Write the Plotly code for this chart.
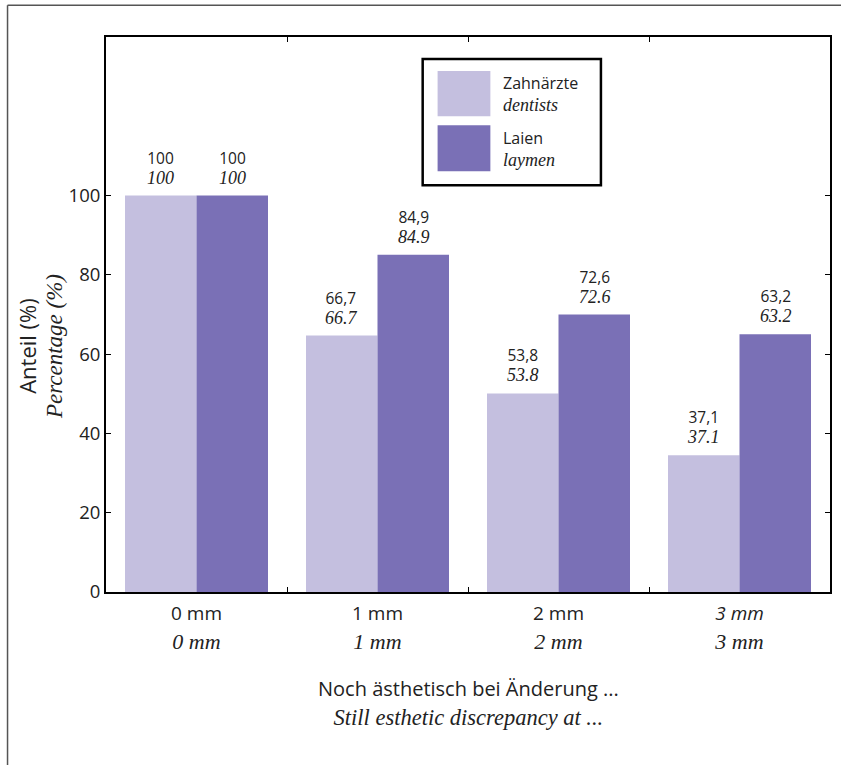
import plotly.graph_objects as go

categories = ["0 mm", "1 mm", "2 mm", "3 mm"]
tick_top = ["0 mm", "1 mm", "2 mm", "<i>3 mm</i>"]
tick_bottom = ["0 mm", "1 mm", "2 mm", "3 mm"]

# bar heights as drawn in the picture
dentists = [100, 64.7, 50.1, 34.5]
laymen = [100, 85.1, 70.0, 65.0]
# printed value labels
dentists_lbl_de = ["100", "66,7", "53,8", "37,1"]
dentists_lbl_en = ["100", "66.7", "53.8", "37.1"]
laymen_lbl_de = ["100", "84,9", "72,6", "63,2"]
laymen_lbl_en = ["100", "84.9", "72.6", "63.2"]

series_names = [("Zahnärzte", "dentists"), ("Laien", "laymen")]
c_light = "#c4bfdf"
c_dark = "#7a70b6"

SANS = "Open Sans, Noto Sans, sans-serif"
SERIF = "Liberation Serif, DejaVu Serif, serif"
INK = "#222"


def two_line(a, b, sa, sb):
    return (f"<span style='font-family:{SANS};font-size:{sa}px'>{a}</span><br>"
            f"<span style='font-family:{SERIF};font-style:italic;font-size:{sb}px'>{b}</span>")


fig = go.Figure()
fig.add_trace(go.Bar(x=categories, y=dentists, name="Zahnärzte / dentists",
                     marker=dict(color=c_light, line=dict(width=0))))
fig.add_trace(go.Bar(x=categories, y=laymen, name="Laien / laymen",
                     marker=dict(color=c_dark, line=dict(width=0))))

annotations = []
for i, cat in enumerate(categories):
    for vals, de, en, shift in ((dentists, dentists_lbl_de, dentists_lbl_en, -36),
                                (laymen, laymen_lbl_de, laymen_lbl_en, 36)):
        annotations.append(dict(x=cat, y=vals[i], xref="x", yref="y", xshift=shift, yshift=6,
                                text=two_line(de[i], en[i], 15.5, 18), showarrow=False,
                                yanchor="bottom", xanchor="center",
                                font=dict(family=SANS, size=15, color=INK)))

# axis titles
annotations.append(dict(x=-0.092, y=0.442, xref="paper", yref="paper", textangle=-90,
                        xanchor="center", yanchor="middle",
                        text=two_line("Anteil (%)", "Percentage (%)", 22, 23),
                        showarrow=False, font=dict(family=SANS, size=20, color=INK)))
annotations.append(dict(x=0.5, y=-0.146, xref="paper", yref="paper", yanchor="top",
                        text=two_line("Noch ästhetisch bei Änderung ...", "Still esthetic discrepancy at ...", 20, 22.5),
                        showarrow=False, font=dict(family=SANS, size=22, color=INK)))

# custom legend (box + swatches)
shapes = [
    dict(type="rect", xref="paper", yref="paper", x0=0.4374, x1=0.6836, y0=0.7329, y1=0.9603,
         line=dict(color="black", width=2.5), fillcolor="white", layer="above"),
    dict(type="rect", xref="paper", yref="paper", x0=0.4580, x1=0.5309, y0=0.8574, y1=0.9386,
         line=dict(width=0), fillcolor=c_light, layer="above"),
    dict(type="rect", xref="paper", yref="paper", x0=0.4580, x1=0.5309, y0=0.7581, y1=0.8412,
         line=dict(width=0), fillcolor=c_dark, layer="above"),
    # outer frame
    dict(type="line", xref="paper", yref="paper", x0=-0.136, x1=-0.136, y0=-0.4, y1=1.057,
         line=dict(color="#555", width=1.5)),
    dict(type="line", xref="paper", yref="paper", x0=-0.136, x1=1.02, y0=1.057, y1=1.057,
         line=dict(color="#555", width=1.5)),
]
for (de, en), yc in zip(series_names, (0.898, 0.7996)):
    annotations.append(dict(x=0.5461, y=yc, xref="paper", yref="paper", xanchor="left", yanchor="middle",
                            align="left", text=two_line(de, en, 16, 18), showarrow=False,
                            font=dict(family=SANS, size=17, color=INK)))

fig.update_layout(
    width=841, height=765,
    margin=dict(l=106, r=9, t=37, b=173),
    paper_bgcolor="white", plot_bgcolor="white",
    barmode="group", bargap=0.21, bargroupgap=0,
    showlegend=False,
    annotations=annotations, shapes=shapes,
    font=dict(family=SANS, color=INK),
)
fig.update_xaxes(
    tickmode="array", tickvals=categories,
    ticktext=[two_line(a, b, 19, 22) for a, b in zip(tick_top, tick_bottom)],
    tickfont=dict(family=SANS, size=22, color=INK),
    tickson="boundaries", ticks="inside", ticklen=5, tickcolor="black",
    showline=True, linecolor="black", linewidth=2, mirror="ticks",
    showgrid=False,
)
fig.update_yaxes(
    range=[0, 140], tickvals=[0, 20, 40, 60, 80, 100],
    tickfont=dict(family=SANS, size=18.5, color=INK),
    ticks="inside", ticklen=5, tickcolor="black",
    showline=True, linecolor="black", linewidth=2, mirror="ticks",
    showgrid=False, zeroline=False,
)

fig.write_html("out.html", config={"displayModeBar": False},
               post_script="document.body.style.margin='0';document.body.style.padding='0';")
